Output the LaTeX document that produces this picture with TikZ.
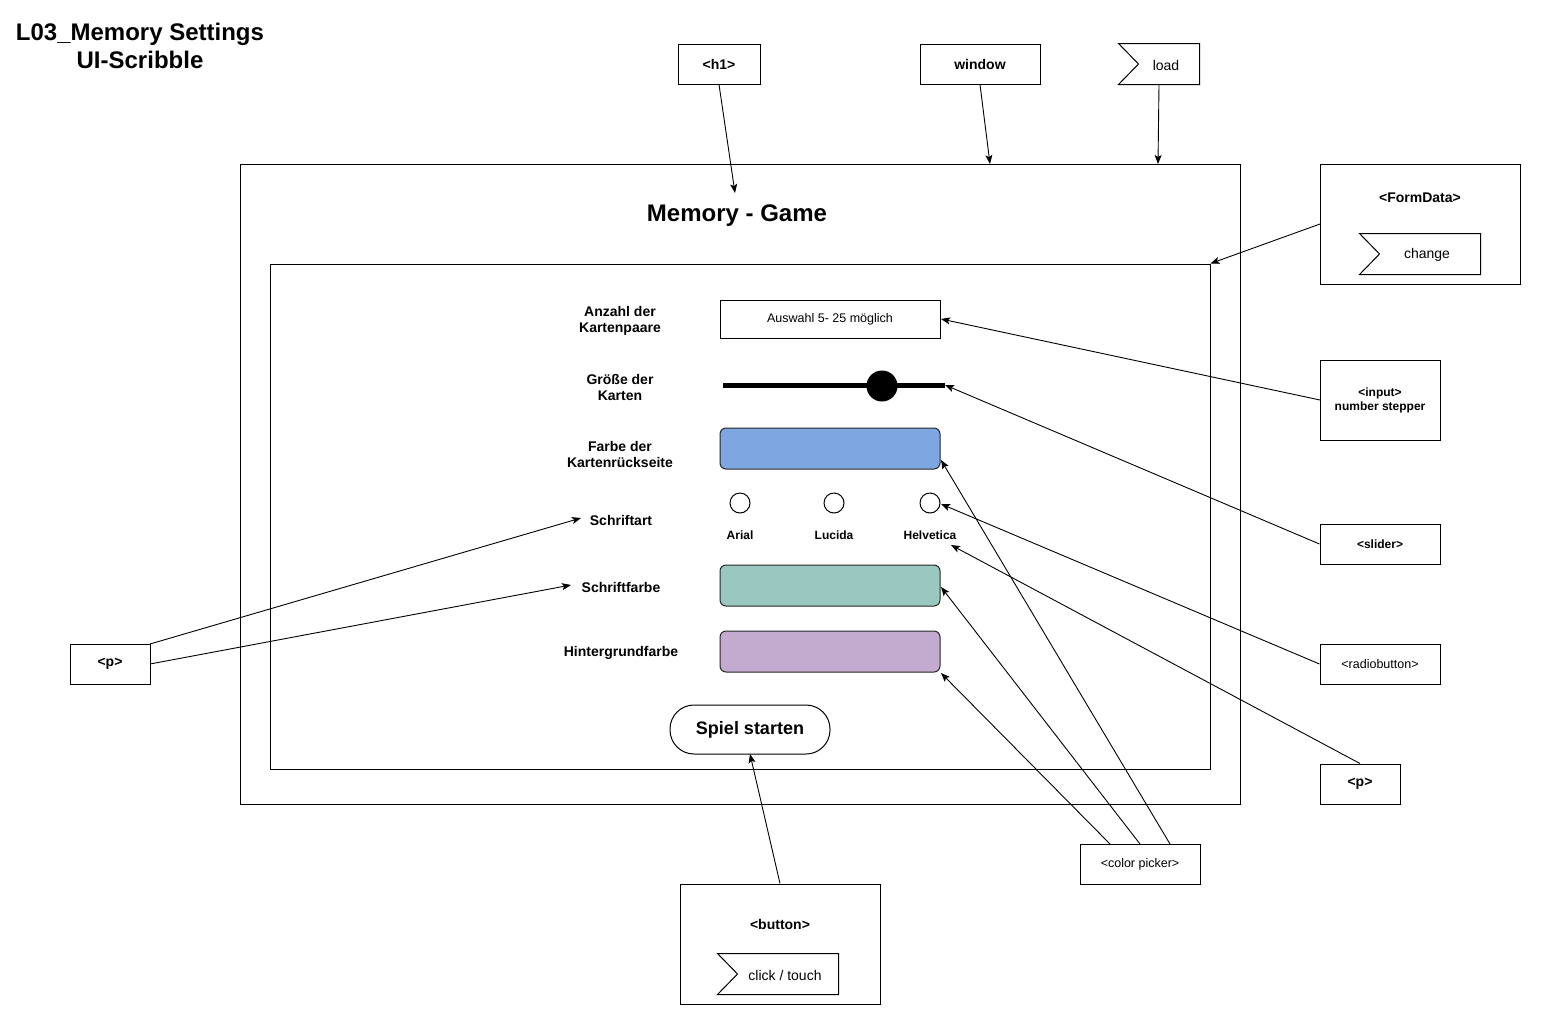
\documentclass[tikz,border=0pt]{standalone}
\usepackage{fontspec}
\setmainfont{Liberation Sans}
\usetikzlibrary{arrows.meta,calc}
\begin{document}
\begin{tikzpicture}[x=1pt,y=-1pt,
  line width=1pt,
  box/.style={draw=black,fill=white,inner sep=0pt,line width=1pt},
  plain/.style={inner sep=0pt},
  arr/.style={-{Stealth[length=9pt,width=7pt,inset=2pt]},line width=0.9pt},
  fb/.style={font=\fontsize{14}{16}\selectfont\bfseries},
  fr/.style={font=\fontsize{14}{16}\selectfont},
  fbs/.style={font=\fontsize{12}{14}\selectfont\bfseries},
  frs/.style={font=\fontsize{12.5}{14}\selectfont},
  lab/.style={fb,align=center,inner sep=0pt},
  field/.style={draw=black!85,rounded corners=6pt,line width=1pt,inner sep=0pt,minimum width=220,minimum height=41}
]
\useasboundingbox (0,0) rectangle (1561,1034);
% title
\node[plain,align=center,font=\fontsize{24}{28}\selectfont\bfseries] (ttl) at (140,46) {L03\_Memory Settings\\UI-Scribble};
% outer window and inner form
\node[box,minimum width=1000,minimum height=640] (outer) at (740,484) {};
\node[box,minimum width=940,minimum height=505] (form) at (740,516.5) {};
\node[plain,font=\fontsize{24}{26}\selectfont\bfseries] (game) at (737,216) {Memory - Game};
% top boxes
\node[box,fb,minimum width=82,minimum height=40] (h1) at (719,64) {\raisebox{-1pt}{<h1>}};
\node[box,fb,minimum width=120,minimum height=40] (win) at (980,64) {\raisebox{-1pt}{window}};
\node[plain,minimum width=80,minimum height=40] (load) at (1159,64) {};
\draw (load.north west) -- (load.north east) -- (load.south east) -- (load.south west) -- ($(load.west)+(20,0)$) -- cycle;
\node[plain,fr] (loadt) at (1166,65) {load};
% FormData
\node[box,minimum width=200,minimum height=120] (fd) at (1420,224) {};
\node[plain,fb] (fdt) at (1420,198) {<FormData>};
\node[plain,minimum width=120,minimum height=40] (chg) at (1420,254) {};
\draw (chg.north west) -- (chg.north east) -- (chg.south east) -- (chg.south west) -- ($(chg.west)+(20,0)$) -- cycle;
\node[plain,fr] (chgt) at (1427,255) {change};
% right side boxes
\node[box,align=center,minimum width=120,minimum height=80,font=\fontsize{12}{14}\selectfont\bfseries] (inp) at (1380,400) {<input>\\number stepper};
\node[box,fbs,minimum width=120,minimum height=40] (sld) at (1380,544) {\raisebox{-1pt}{<slider>}};
\node[box,frs,minimum width=120,minimum height=40] (rad) at (1380,664) {\raisebox{-1pt}{<radiobutton>}};
\node[box,fb,minimum width=80,minimum height=40] (pr) at (1360,784) {\raisebox{-2pt}{<p>}};
\node[box,frs,minimum width=120,minimum height=40] (cp) at (1140,864) {\raisebox{-1pt}{<color picker>}};
\node[box,fb,minimum width=80,minimum height=40] (pl) at (110,664) {\raisebox{-2pt}{<p>}};
% button box
\node[box,minimum width=200,minimum height=120] (btn) at (780,944) {};
\node[plain,fb] (btnt) at (780,924) {<button>};
\node[plain,minimum width=120,minimum height=40] (clk) at (778,974) {};
\draw (clk.north west) -- (clk.north east) -- (clk.south east) -- (clk.south west) -- ($(clk.west)+(20,0)$) -- cycle;
\node[plain,fr] (clkt) at (785,975) {click / touch};
% form labels
\node[lab] (l1) at (620,321) {Anzahl der\\Kartenpaare};
\node[lab] (l2) at (620,387) {Größe der\\Karten};
\node[lab] (l3) at (620,454) {Farbe der\\Kartenrückseite};
\node[lab] (l4) at (621,520) {Schriftart};
\node[lab] (l5) at (621,587) {Schriftfarbe};
\node[lab] (l6) at (621,653) {Hintergrundfarbe};
% form fields
\node[box,minimum width=220,minimum height=38,font=\fontsize{12.5}{14}\selectfont] (f1) at (830,319) {\raisebox{-1pt}{Auswahl 5- 25 möglich}};
\coordinate (s1) at (723,385);
\coordinate (s2) at (945,385);
\draw[line width=5pt] (s1) -- (s2);
\node[circle,fill=black,minimum size=31,inner sep=0pt] (knob) at (882,386) {};
\node[field,fill={rgb,255:red,126;green,166;blue,224}] (f3) at (830,448.5) {};
\node[circle,draw=black,fill=white,minimum size=20,inner sep=0pt] (r1) at (740,503) {};
\node[circle,draw=black,fill=white,minimum size=20,inner sep=0pt] (r2) at (834,503) {};
\node[circle,draw=black,fill=white,minimum size=20,inner sep=0pt] (r3) at (930,503) {};
\node[plain,fbs] (rt1) at (740,535) {Arial};
\node[plain,fbs] (rt2) at (834,535) {Lucida};
\node[plain,fbs] (rt3) at (930,535) {Helvetica};
\node[field,fill={rgb,255:red,154;green,199;blue,191}] (f5) at (830,585.5) {};
\node[field,fill={rgb,255:red,195;green,171;blue,208}] (f6) at (830,651.5) {};
\node[draw=black,rounded corners=24pt,minimum width=160,minimum height=49,inner sep=0pt,font=\fontsize{18}{20}\selectfont\bfseries] (spiel) at (750,729.5) {\raisebox{-1pt}{Spiel starten}};
% connectors
\coordinate (gt) at (735,193);
\draw[arr] (h1.south) -- (gt);
\coordinate (wt) at (990,164);
\draw[arr] (win.south) -- (wt);
\coordinate (lt) at (1158,164);
\draw[arr] (load.south) -- (lt);
\coordinate (fdf) at (1320,224);
\draw[arr] (fdf) -- (form.north east);
\coordinate (inpf) at (1320,400);
\coordinate (f1t) at (941,319);
\draw[arr] (inpf) -- (f1t);
\draw[arr] (sld.west) -- (s2);
\coordinate (r3t) at (941,504);
\draw[arr] (rad.west) -- (r3t);
\coordinate (pht) at (951,545);
\draw[arr] (pr.north) -- (pht);
\coordinate (c1) at (1110,844);
\coordinate (c2) at (1140,844);
\coordinate (c3) at (1170,844);
\coordinate (f6t) at (941,673);
\coordinate (f5t) at (941,587);
\coordinate (f3t) at (941,460);
\draw[arr] (c1) -- (f6t);
\draw[arr] (c2) -- (f5t);
\draw[arr] (c3) -- (f3t);
\coordinate (bt) at (750,754);
\draw[arr] (btn.north) -- (bt);
\coordinate (pl1) at (150,644);
\coordinate (pl2) at (150,664);
\coordinate (l4t) at (581,518);
\coordinate (l5t) at (571,585);
\draw[arr] (pl1) -- (l4t);
\draw[arr] (pl2) -- (l5t);
\end{tikzpicture}
\end{document}
